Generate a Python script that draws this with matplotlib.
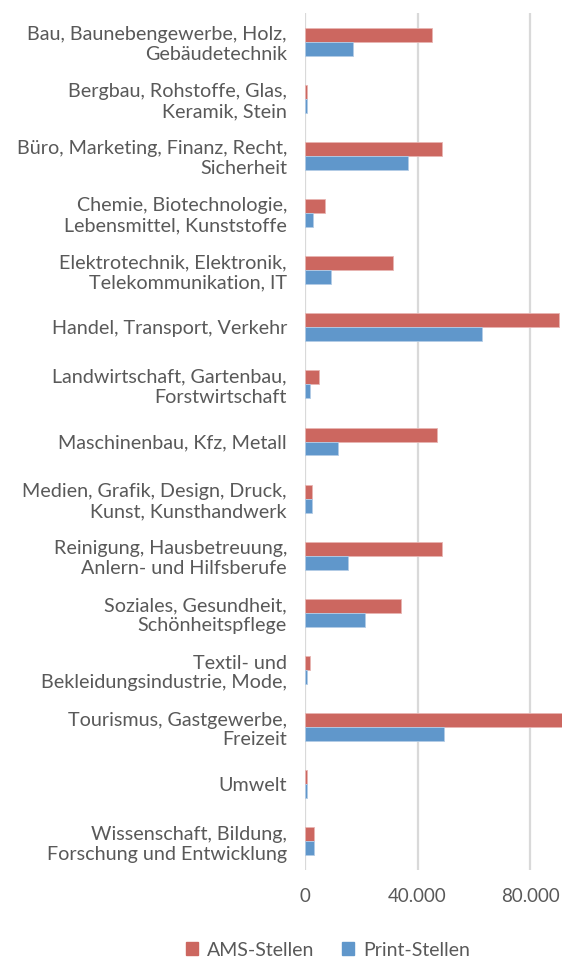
import numpy as np
import matplotlib.pyplot as plt
from matplotlib.patches import Patch

categories = [
    "Bau, Baunebengewerbe, Holz,\nGebäudetechnik",
    "Bergbau, Rohstoffe, Glas,\nKeramik, Stein",
    "Büro, Marketing, Finanz, Recht,\nSicherheit",
    "Chemie, Biotechnologie,\nLebensmittel, Kunststoffe",
    "Elektrotechnik, Elektronik,\nTelekommunikation, IT",
    "Handel, Transport, Verkehr",
    "Landwirtschaft, Gartenbau,\nForstwirtschaft",
    "Maschinenbau, Kfz, Metall",
    "Medien, Grafik, Design, Druck,\nKunst, Kunsthandwerk",
    "Reinigung, Hausbetreuung,\nAnlern- und Hilfsberufe",
    "Soziales, Gesundheit,\nSchönheitspflege",
    "Textil- und\nBekleidungsindustrie, Mode,",
    "Tourismus, Gastgewerbe,\nFreizeit",
    "Umwelt",
    "Wissenschaft, Bildung,\nForschung und Entwicklung",
]
ams = [45200, 700, 48500, 7000, 31200, 90200, 5100, 46800, 2500, 48500, 34000, 1700, 92000, 600, 3300]
printed = [16900, 700, 36600, 2800, 9200, 62900, 1700, 11800, 2500, 15300, 21300, 800, 49300, 600, 3300]
xticks = [0, 40000, 80000]
xtick_labels = ["0", "40.000", "80.000"]

RED = "#CC6760"
BLUE = "#6097CB"
TEXT = "#595959"
FONT = ["Lato", "DejaVu Sans"]

plt.rcParams['font.family'] = FONT

fig = plt.figure(figsize=(5.62, 9.6), dpi=100)
ax = fig.add_axes([305 / 562, 1 - 870 / 960, 1 - 305 / 562, 857 / 960])

y = np.arange(len(categories))
h = 0.245
ax.barh(y - h / 2, ams, height=h, color=RED, edgecolor="#E8B5B2", linewidth=0.6, label="AMS-Stellen")
ax.barh(y + h / 2, printed, height=h, color=BLUE, edgecolor="#B3CCE6", linewidth=0.6, label="Print-Stellen")

ax.set_ylim(len(categories) - 0.5, -0.5)
ax.set_xlim(0, 91300)
ax.set_yticks(y)
ax.set_yticklabels(categories, ha="right", linespacing=1.2, fontsize=14.2)
ax.set_xticks(xticks)
ax.set_xticklabels(xtick_labels, fontsize=13.5)
ax.tick_params(axis="both", length=0, colors=TEXT)
ax.tick_params(axis="y", pad=13)
ax.tick_params(axis="x", pad=13)
for s in ax.spines.values():
    s.set_visible(False)
ax.grid(axis="x", color="#D9D9D9", linewidth=1.6)
ax.set_axisbelow(True)

handles = [Patch(color=RED), Patch(color=BLUE)]
fig.legend(handles, ["AMS-Stellen", "Print-Stellen"], loc="center",
           bbox_to_anchor=(328 / 562, 1 - 950 / 960), ncol=2, frameon=False,
           fontsize=14, labelcolor=TEXT, handlelength=0.6, handleheight=0.6,
           handletextpad=0.5, columnspacing=1.4)

fig.savefig("out.png", dpi=100)
